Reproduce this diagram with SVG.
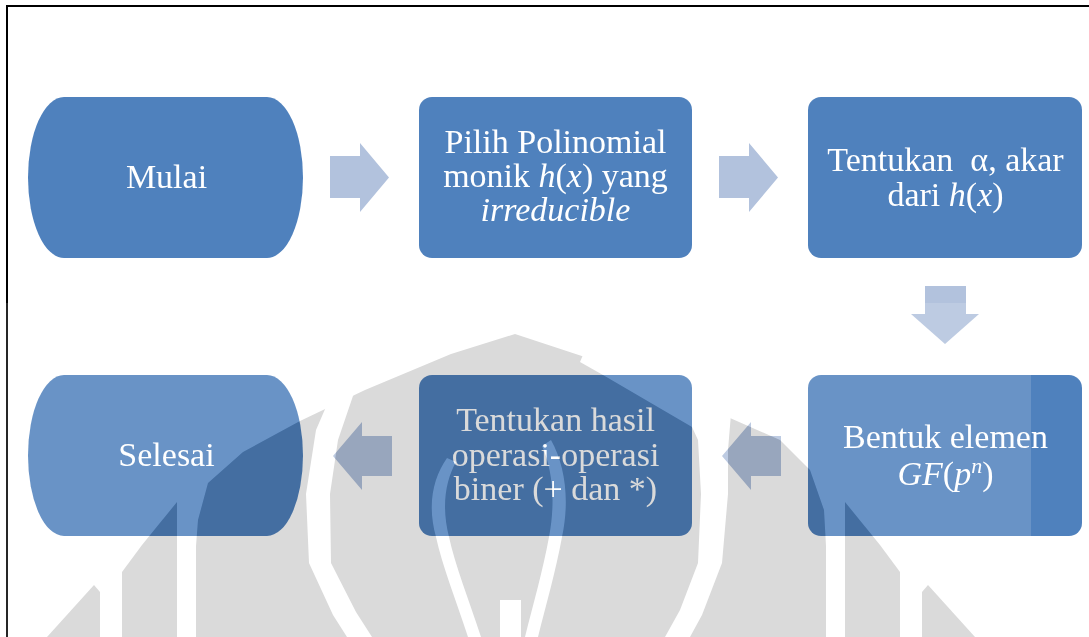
<svg xmlns="http://www.w3.org/2000/svg" width="1089" height="637" viewBox="0 0 1089 637">
<style>
.node{fill:#4f81bd}
.arr{fill:#b2c2dd}
.t{font-family:"Liberation Serif","Times New Roman",serif;font-size:34px;fill:#ffffff;text-anchor:middle}
.i{font-style:italic}
</style>
<defs>
<g id="wmGray">
<path d="M515,334 L451,354 L365,390 L300,421 L243,452 L208,483 L198,520 L196,546 L196,637 L826,637 L826,546 L824,510 L810,470 L780,440 L730,418 L665,388 L600,362 Z"/>
<path d="M177,502 L177,637 L122,637 L122,572 L142,545 Z"/>
<path d="M47,637 L100,637 L100,592 L94,585 Z"/>
<path d="M845,502 L845,637 L900,637 L900,572 L880,545 Z"/>
<path d="M975,637 L922,637 L922,592 L928,585 Z"/>
</g>
<g id="wmWhite">
<path d="M332,393 L316,430 L306,494 L309,563 L333,615 L347,637 L372,637 L356,612 L331,563 L330,494 L338,440 L354,393 Z"/>
<path d="M585,350 L685,382 L731,414 L728,450 L728,494 L722,563 L702,615 L690,637 L665,637 L680,610 L698,563 L701,494 L698,440 L692,427 L603,375 L580,362 Z"/>
<path d="M447,458 C433,478 427,505 436,537 C442,565 456,600 468,637 L481,637 C469,600 455,565 449,537 C441,505 446,480 456,462 Z"/>
<path d="M551,440 C565,465 570,500 562,537 C556,570 546,605 538,637 L525,637 C533,605 543,570 549,537 C556,500 552,468 542,446 Z"/>
<rect x="500" y="600" width="21" height="37"/>
</g>
<mask id="veilMask" maskUnits="userSpaceOnUse" x="0" y="0" width="1089" height="637">
<rect x="0" y="303" width="1031" height="334" fill="#fff"/>
<use href="#wmGray" fill="#000"/>
<use href="#wmWhite" fill="#fff"/>
</mask>
</defs>
<rect x="0" y="0" width="1089" height="637" fill="#ffffff"/>
<g id="frame" fill="#000">
<rect x="6" y="5" width="1083" height="2"/>
<rect x="6" y="5" width="2" height="632"/>
</g>
<g id="connectors">
<path class="arr" d="M330,156 H360 V143 L389,177.5 L360,212 V198 H330 Z"/>
<path class="arr" d="M719,156 H749 V143 L778,177.5 L749,212 V198 H719 Z"/>
<path class="arr" d="M925,286 H966 V314 H979 L945,344 L911,314 H925 Z"/>
<path class="arr" d="M781,436 H751 V422 L722,456 L751,490 V476 H781 Z"/>
<path class="arr" d="M392,436 H362 V422 L333,456 L362,490 V476 H392 Z"/>
</g>
<g id="n1">
<path class="node" d="M64,97 H267 A36,80.5 0 0 1 267,258 H64 A36,80.5 0 0 1 64,97 Z"/>
<text class="t" x="166.5" y="188">Mulai</text>
</g>
<g id="n2">
<rect class="node" x="419" y="97" width="273" height="161" rx="13"/>
<text class="t" x="555.5" y="153">Pilih Polinomial</text>
<text class="t" x="555.5" y="187">monik <tspan class="i">h</tspan>(<tspan class="i">x</tspan>) yang</text>
<text class="t i" x="555.5" y="221">irreducible</text>
</g>
<g id="n3">
<rect class="node" x="808" y="97" width="274" height="161" rx="13"/>
<text class="t" x="945.5" y="171" xml:space="preserve">Tentukan  α, akar</text>
<text class="t" x="945.5" y="206">dari <tspan class="i">h</tspan>(<tspan class="i">x</tspan>)</text>
</g>
<g id="n4">
<rect class="node" x="808" y="375" width="274" height="161" rx="13"/>
<text class="t" x="945.5" y="448">Bentuk elemen</text>
<text class="t" x="945.5" y="485"><tspan class="i">GF</tspan>(<tspan class="i">p</tspan><tspan class="i" font-size="22" dy="-12">n</tspan><tspan dy="12">)</tspan></text>
</g>
<g id="n5">
<rect class="node" x="419" y="375" width="273" height="161" rx="13"/>
<text class="t" x="555.5" y="431">Tentukan hasil</text>
<text class="t" x="555.5" y="466">operasi-operasi</text>
<text class="t" x="555.5" y="500">biner (+ dan *)</text>
</g>
<g id="n6">
<path class="node" d="M64,375 H267 A36,80.5 0 0 1 267,536 H64 A36,80.5 0 0 1 64,375 Z"/>
<text class="t" x="166.5" y="466">Selesai</text>
</g>
<g id="watermark">
<rect x="0" y="303" width="1031" height="334" fill="#fff" fill-opacity="0.15" mask="url(#veilMask)"/>
<g style="mix-blend-mode:multiply">
<use href="#wmGray" fill="#dadada"/>
<use href="#wmWhite" fill="#ffffff"/>
</g>
</g>
</svg>
